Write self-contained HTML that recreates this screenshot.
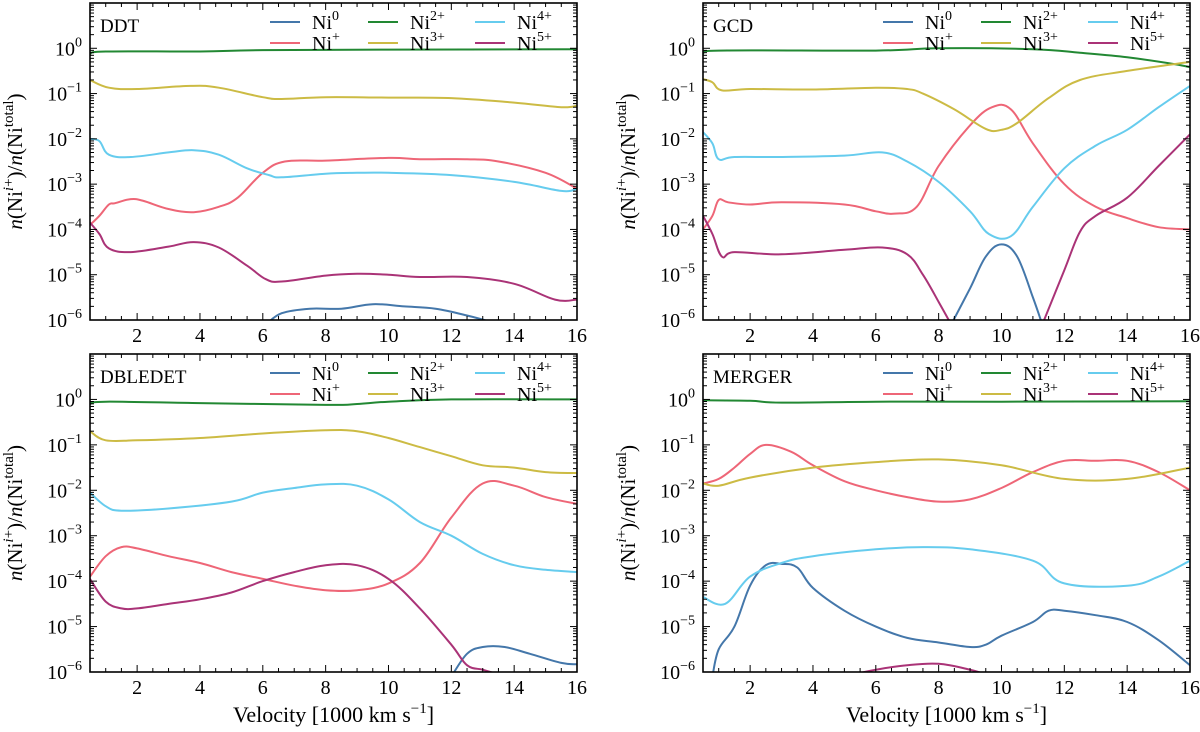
<!DOCTYPE html>
<html><head><meta charset="utf-8"><style>
html,body{margin:0;padding:0;background:#fff;}
svg{display:block;font-family:"Liberation Serif","DejaVu Serif",serif;}
</style></head><body>
<svg id="fig" width="1200" height="732" viewBox="0 0 1200 732" xmlns="http://www.w3.org/2000/svg"></svg>
<script>
const species = ["Ni0","Ni+","Ni2+","Ni3+","Ni4+","Ni5+"];
const colors = ["#4477AA","#EE6677","#228833","#CCBB44","#66CCEE","#AA3377"];
const panelNames = ["DDT","GCD","DBLEDET","MERGER"];
const xTicks = [2,4,6,8,10,12,14,16];
const yTicks = [0,-1,-2,-3,-4,-5,-6];

// data: [velocity, log10 fraction]
const ddt_ni0 = [[6.1,-6.1],[6.6,-5.85],[7.5,-5.75],[8.5,-5.75],[9.5,-5.65],[10.5,-5.7],[11.5,-5.75],[12.5,-5.9],[13.3,-6.05]];
const ddt_ni1 = [[0.5,-3.9],[0.8,-3.7],[1.1,-3.45],[1.3,-3.42],[1.8,-3.33],[2.2,-3.37],[3,-3.55],[3.8,-3.62],[4.6,-3.5],[5.2,-3.3],[6,-2.75],[6.7,-2.5],[8,-2.48],[10,-2.42],[11,-2.45],[12.5,-2.45],[13.5,-2.5],[15,-2.75],[16,-3.1]];
const ddt_ni2 = [[0.5,-0.12],[1,-0.07],[4,-0.07],[6,-0.04],[10,-0.03],[16,-0.02]];
const ddt_ni3 = [[0.5,-0.7],[1.1,-0.87],[2,-0.9],[3.7,-0.83],[4.6,-0.87],[6,-1.08],[6.6,-1.12],[8,-1.08],[10,-1.09],[12,-1.1],[14,-1.2],[15.5,-1.3],[16,-1.27]];
const ddt_ni4 = [[0.5,-2.0],[0.8,-2.05],[1.1,-2.35],[1.8,-2.4],[3,-2.3],[3.8,-2.25],[4.6,-2.35],[5.5,-2.65],[6.2,-2.8],[6.6,-2.85],[8,-2.77],[9,-2.75],[10,-2.75],[12,-2.8],[14,-2.95],[15.5,-3.15],[16,-3.1]];
const ddt_ni5 = [[0.5,-3.85],[0.8,-4.1],[1.1,-4.42],[1.8,-4.5],[3,-4.38],[3.8,-4.28],[4.6,-4.4],[5.5,-4.8],[6.1,-5.1],[6.6,-5.15],[8,-5.02],[9,-4.98],[10,-5.0],[11,-5.05],[12.5,-5.05],[14,-5.2],[15.3,-5.55],[16,-5.55]];

const gcd_ni0 = [[8.4,-6.1],[9,-5.3],[9.5,-4.6],[10,-4.33],[10.5,-4.6],[11,-5.5],[11.3,-6.1]];
const gcd_ni1 = [[0.5,-4.0],[0.8,-3.7],[1,-3.35],[1.3,-3.4],[2,-3.45],[3,-3.4],[5,-3.45],[6,-3.6],[6.6,-3.65],[7.3,-3.5],[8,-2.6],[9,-1.7],[9.7,-1.3],[10.3,-1.35],[11,-2.1],[12,-3.0],[13,-3.5],[14,-3.75],[15,-3.95],[16,-4.0]];
const gcd_ni2 = [[0.5,-0.12],[1,-0.05],[6,-0.05],[8,0.0],[11,-0.02],[12.5,-0.1],[14,-0.2],[15.5,-0.35],[16,-0.42]];
const gcd_ni3 = [[0.5,-0.68],[0.8,-0.75],[1.1,-0.93],[2,-0.9],[4,-0.91],[6,-0.87],[7,-0.9],[7.5,-1.0],[8.5,-1.35],[9.5,-1.78],[10,-1.8],[10.5,-1.65],[11.5,-1.1],[12.5,-0.7],[14,-0.5],[16,-0.3]];
const gcd_ni4 = [[0.5,-1.85],[0.8,-2.1],[1,-2.45],[1.5,-2.4],[3,-2.4],[5,-2.37],[6.2,-2.3],[7,-2.5],[8,-2.95],[9,-3.6],[9.6,-4.1],[10.3,-4.15],[11,-3.5],[12,-2.65],[13,-2.15],[14,-1.8],[15,-1.3],[16,-0.83]];
const gcd_ni5a = [[0.5,-3.7],[0.8,-4.1],[1.1,-4.6],[1.5,-4.5],[3,-4.55],[5,-4.45],[6.2,-4.4],[7,-4.55],[7.5,-5.0],[8,-5.6],[8.4,-6.1]];
const gcd_ni5b = [[11.3,-6.1],[12,-4.9],[12.5,-4.05],[13,-3.7],[14,-3.3],[15,-2.6],[16,-1.9]];

const dbl_ni0 = [[12,-6.1],[12.5,-5.6],[13,-5.45],[13.7,-5.45],[14.5,-5.6],[15.5,-5.8],[16,-5.83]];
const dbl_ni1 = [[0.5,-3.9],[1,-3.45],[1.5,-3.25],[2,-3.28],[3,-3.45],[4,-3.6],[5,-3.8],[6,-3.95],[7,-4.1],[8,-4.2],[9,-4.2],[10,-4.05],[11,-3.6],[12,-2.6],[13,-1.85],[14,-1.9],[15,-2.15],[16,-2.3]];
const dbl_ni2 = [[0.5,-0.1],[1,-0.05],[4,-0.08],[8,-0.12],[9,-0.1],[10,-0.05],[12,0],[16,0]];
const dbl_ni3 = [[0.5,-0.7],[1,-0.9],[2,-0.9],[4,-0.85],[6,-0.75],[8,-0.68],[9,-0.7],[10,-0.85],[11,-1.05],[12,-1.25],[13,-1.45],[14,-1.5],[15,-1.6],[16,-1.62]];
const dbl_ni4 = [[0.5,-2.05],[1,-2.35],[1.5,-2.45],[3,-2.4],[5,-2.25],[6,-2.05],[7,-1.95],[8,-1.87],[9,-1.9],[10,-2.2],[11,-2.7],[12,-3.0],[13,-3.4],[14,-3.65],[15,-3.75],[16,-3.8]];
const dbl_ni5 = [[0.5,-3.95],[1,-4.45],[1.5,-4.6],[2,-4.6],[3,-4.5],[4,-4.4],[5,-4.25],[6,-4.0],[7,-3.8],[8,-3.65],[9,-3.65],[10,-3.95],[11,-4.6],[12,-5.4],[12.5,-5.85],[13,-5.95],[13.5,-6.05]];

const mrg_ni0 = [[0.8,-6.1],[1,-5.5],[1.5,-5.0],[2,-4.1],[2.5,-3.65],[3,-3.62],[3.5,-3.7],[4,-4.15],[5,-4.65],[6,-5.0],[7,-5.25],[8,-5.35],[9,-5.45],[9.5,-5.4],[10,-5.2],[11,-4.9],[11.5,-4.65],[12,-4.65],[13,-4.75],[14,-4.9],[15,-5.3],[16,-5.85]];
const mrg_ni1 = [[0.5,-1.85],[1,-1.75],[1.5,-1.5],[2,-1.2],[2.5,-1.0],[3.3,-1.15],[4,-1.45],[5,-1.8],[6,-2.0],[7,-2.15],[8,-2.25],[9,-2.2],[10,-1.95],[11,-1.6],[12,-1.35],[13,-1.35],[14,-1.35],[15,-1.6],[16,-2.0]];
const mrg_ni2 = [[0.5,-0.02],[2,-0.03],[3,-0.07],[6,-0.05],[10,-0.05],[16,-0.04]];
const mrg_ni3 = [[0.5,-1.85],[1,-1.9],[2,-1.72],[4,-1.5],[6,-1.38],[8,-1.32],[10,-1.45],[12,-1.75],[14,-1.75],[16,-1.5]];
const mrg_ni4 = [[0.5,-4.35],[1.2,-4.5],[2,-3.9],[3,-3.6],[4,-3.45],[6,-3.3],[7.5,-3.25],[9,-3.3],[11,-3.55],[12,-4.05],[14,-4.1],[15,-3.9],[16,-3.55]];
const mrg_ni5 = [[5.3,-6.05],[6,-5.95],[7,-5.85],[8,-5.82],[9,-5.95],[9.5,-6.05]];

const panelSeries = [
  [[ddt_ni0],[ddt_ni1],[ddt_ni2],[ddt_ni3],[ddt_ni4],[ddt_ni5]],
  [[gcd_ni0],[gcd_ni1],[gcd_ni2],[gcd_ni3],[gcd_ni4],[gcd_ni5a,gcd_ni5b]],
  [[dbl_ni0],[dbl_ni1],[dbl_ni2],[dbl_ni3],[dbl_ni4],[dbl_ni5]],
  [[mrg_ni0],[mrg_ni1],[mrg_ni2],[mrg_ni3],[mrg_ni4],[mrg_ni5]]
];

const NS="http://www.w3.org/2000/svg";
const svg=document.getElementById('fig');
function mk(tag,attrs,parent){const e=document.createElementNS(NS,tag);for(const k in attrs)e.setAttribute(k,attrs[k]);(parent||svg).appendChild(e);return e;}
function smoothPath(pts){
  if(pts.length<3) return pts.map((p,i)=>(i?'L':'M')+p[0].toFixed(1)+','+p[1].toFixed(1)).join(' ');
  let d='M'+pts[0][0].toFixed(1)+','+pts[0][1].toFixed(1);
  const t=0.18;
  for(let i=0;i<pts.length-1;i++){
    const p0=pts[Math.max(0,i-1)],p1=pts[i],p2=pts[i+1],p3=pts[Math.min(pts.length-1,i+2)];
    const c1=[p1[0]+(p2[0]-p0[0])*t,p1[1]+(p2[1]-p0[1])*t];
    const c2=[p2[0]-(p3[0]-p1[0])*t,p2[1]-(p3[1]-p1[1])*t];
    d+=' C'+c1[0].toFixed(1)+','+c1[1].toFixed(1)+' '+c2[0].toFixed(1)+','+c2[1].toFixed(1)+' '+p2[0].toFixed(1)+','+p2[1].toFixed(1);
  }
  return d;
}
const boxes=[[90,3,577,320],[703,3,1190,320],[90,354,577,672],[703,354,1190,672]];
const XMIN=0.5,XMAX=16,YMIN=-6,YMAX=1;
const defs=mk('defs',{});
const labelHTML=[["Ni","0"],["Ni","+"],["Ni","2+"],["Ni","3+"],["Ni","4+"],["Ni","5+"]];

boxes.forEach((b,pi)=>{
  const [L,T,R,B]=b;
  const sx=v=>L+(v-XMIN)/(XMAX-XMIN)*(R-L);
  const sy=v=>B-(v-YMIN)/(YMAX-YMIN)*(B-T);
  const g=mk('g',{});
  
  
  const cp=mk('clipPath',{id:'clip'+pi},defs);
  mk('rect',{x:L,y:T,width:R-L,height:B-T},cp);
  panelSeries[pi].forEach((segs,si)=>{
    segs.forEach(seg=>{
      const d=smoothPath(seg.map(p=>[sx(p[0]),sy(p[1])]));
      const p=mk('path',{d:d,fill:'none',stroke:colors[si],'stroke-width':2,'stroke-linejoin':'round','clip-path':'url(#clip'+pi+')'},g);
      
      
    });
  });
  const tk=mk('g',{stroke:'#000','stroke-width':1},g);
  
  
  for(let v=0.5;v<=16.001;v+=0.5){
    const x=sx(v);const major=Math.abs(v/2-Math.round(v/2))<1e-6;const len=major?7:4;
    mk('line',{x1:x,y1:B,x2:x,y2:B-len},tk);mk('line',{x1:x,y1:T,x2:x,y2:T+len},tk);
  }
  for(let dec=YMIN;dec<YMAX;dec++){
    for(let m=1;m<10;m++){
      const y=sy(dec+Math.log10(m));const len=m===1?7:4;
      mk('line',{x1:L,y1:y,x2:L+len,y2:y},tk);mk('line',{x1:R,y1:y,x2:R-len,y2:y},tk);
    }
  }
  mk('rect',{x:L,y:T,width:R-L,height:B-T,fill:'none',stroke:'#000','stroke-width':1.6},g);
  yTicks.forEach(v=>{
    const t=mk('text',{x:L-8,y:sy(v)+7,'text-anchor':'end','font-size':20},g);
    
    
    t.innerHTML='10<tspan dy="-9" font-size="14">'+(v===0?'0':'−'+(-v))+'</tspan>';
  });
  xTicks.forEach(v=>{
    const t=mk('text',{x:sx(v),y:B+22,'text-anchor':'middle','font-size':20},g);
    
    
    t.textContent=v;
  });
  const tt=mk('text',{x:L+10,y:T+29,'font-size':19},g);
  
  
  tt.textContent=panelNames[pi];
  const lg=mk('g',{},g);
  
  
  const cols=[R-307,R-209,R-102];
  species.forEach((s,si)=>{
    const c=Math.floor(si/2),r=si%2;const x=cols[c],y=T+19+r*21;
    const e=mk('g',{},lg);
    
    
    mk('line',{x1:x,y1:y,x2:x+30,y2:y,stroke:colors[si],'stroke-width':2},e);
    const t=mk('text',{x:x+42,y:y+7,'font-size':20},e);
    t.innerHTML=labelHTML[si][0]+'<tspan dy="-9" font-size="14">'+labelHTML[si][1]+'</tspan>';
  });
  const cy=(T+B)/2, cx=L-68;
  const yl=mk('text',{x:cx,y:cy,'text-anchor':'middle','font-size':21,transform:'rotate(-90 '+cx+' '+cy+')'},g);
  
  
  yl.innerHTML='<tspan font-style="italic">n</tspan>(Ni<tspan dy="-9" font-size="15"><tspan font-style="italic">i</tspan>+</tspan><tspan dy="9">)/</tspan><tspan font-style="italic">n</tspan>(Ni<tspan dy="-9" font-size="15">total</tspan><tspan dy="9">)</tspan>';
  if(pi>=2){
    const xl=mk('text',{x:(L+R)/2,y:B+50,'text-anchor':'middle','font-size':22},g);
    
    
    xl.innerHTML='Velocity [1000 km s<tspan dy="-9" font-size="15">−1</tspan><tspan dy="9">]</tspan>';
  }
});
</script>
</body></html>
